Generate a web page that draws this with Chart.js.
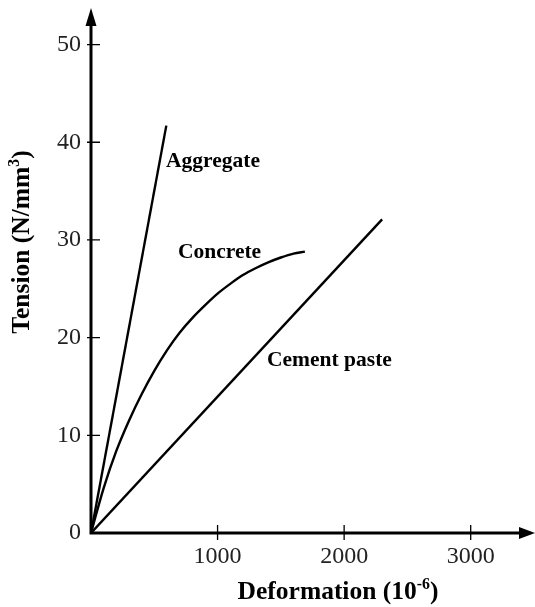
<!DOCTYPE html>
<html>
<head>
<meta charset="utf-8">
<script src="https://cdn.jsdelivr.net/npm/chart.js"></script>
<style>
  html, body { margin: 0; padding: 0; background: #fff; }
</style>
</head>
<body>
<canvas id="myChart" width="535" height="607"></canvas>
<script>
const xTicks = [1000, 2000, 3000];
const yTicks = [0, 10, 20, 30, 40, 50];

const seriesNames = ["Aggregate", "Concrete", "Cement paste"];

const aggregateX = [0, 595];
const aggregateY = [0, 41.7];

const concreteX = [0, 100, 200, 300, 400, 500, 600, 700, 800, 900, 1000, 1100, 1200, 1300, 1400, 1500, 1600, 1690];
const concreteY = [0, 4.6, 8.4, 11.5, 14.2, 16.6, 18.7, 20.5, 22.0, 23.3, 24.5, 25.5, 26.4, 27.1, 27.7, 28.2, 28.6, 28.8];

const pasteX = [0, 2300];
const pasteY = [0, 32.1];

const toPoints = (xs, ys) => xs.map((x, i) => ({ x: x, y: ys[i] }));

const serif = "'Liberation Serif', 'Times New Roman', serif";

// where the curve names sit, in data units (left edge, baseline)
const nameSpots = [[593, 37.5], [687, 28.1], [1391, 17.1]];

const drawSup = (ctx, parts, x, y, size) => {
  // parts: [text, isSup]
  let total = 0;
  parts.forEach(p => {
    ctx.font = "bold " + (p[1] ? size * 0.62 : size) + "px " + serif;
    total += ctx.measureText(p[0]).width;
  });
  let cx = x - total / 2;
  parts.forEach(p => {
    ctx.font = "bold " + (p[1] ? size * 0.62 : size) + "px " + serif;
    ctx.fillText(p[0], cx, p[1] ? y - size * 0.38 : y);
    cx += ctx.measureText(p[0]).width;
  });
};

const axisDecor = {
  id: "axisDecor",
  afterDraw: (chart) => {
    const ctx = chart.ctx;
    const xs = chart.scales.x;
    const ys = chart.scales.y;
    const a = chart.chartArea;
    ctx.save();
    ctx.strokeStyle = "#000";
    ctx.fillStyle = "#000";

    // axes
    ctx.lineWidth = 3;
    ctx.beginPath();
    ctx.moveTo(a.left, a.bottom);
    ctx.lineTo(a.left, a.top);
    ctx.moveTo(a.left - 1.5, a.bottom);
    ctx.lineTo(a.right + 5, a.bottom);
    ctx.stroke();

    // arrow heads
    ctx.beginPath();
    ctx.moveTo(a.left - 5.5, a.top + 1);
    ctx.lineTo(a.left, a.top - 17);
    ctx.lineTo(a.left + 5.5, a.top + 1);
    ctx.closePath();
    ctx.fill();
    ctx.beginPath();
    ctx.moveTo(a.right + 4, a.bottom - 6);
    ctx.lineTo(a.right + 20, a.bottom);
    ctx.lineTo(a.right + 4, a.bottom + 6);
    ctx.closePath();
    ctx.fill();

    // tick marks crossing the axes
    ctx.lineWidth = 1.3;
    ctx.beginPath();
    yTicks.forEach(v => {
      if (v === 0) return;
      const py = ys.getPixelForValue(v);
      ctx.moveTo(a.left - 4, py);
      ctx.lineTo(a.left + 9, py);
    });
    xTicks.forEach(v => {
      const px = xs.getPixelForValue(v);
      ctx.moveTo(px, a.bottom - 8);
      ctx.lineTo(px, a.bottom + 7);
    });
    ctx.stroke();

    // curve names
    ctx.font = "bold 21.5px " + serif;
    ctx.textAlign = "left";
    ctx.textBaseline = "alphabetic";
    seriesNames.forEach((name, i) => {
      ctx.fillText(name, xs.getPixelForValue(nameSpots[i][0]), ys.getPixelForValue(nameSpots[i][1]));
    });

    // axis titles
    drawSup(ctx, [["Deformation (10", false], ["-6", true], [")", false]], 338, 599, 25.5);
    ctx.translate(29, 242);
    ctx.rotate(-Math.PI / 2);
    drawSup(ctx, [["Tension (N/mm", false], ["3", true], [")", false]], 0, 0, 25.5);
    ctx.restore();
  }
};

const ctx = document.getElementById("myChart").getContext("2d");
const lineStyle = { borderColor: "#000", borderWidth: 2.4, pointRadius: 0, fill: false };

const myChart = new Chart(ctx, {
  type: "line",
  data: {
    datasets: [
      Object.assign({ label: seriesNames[0], data: toPoints(aggregateX, aggregateY) }, lineStyle),
      Object.assign({ label: seriesNames[1], data: toPoints(concreteX, concreteY), cubicInterpolationMode: "monotone" }, lineStyle),
      Object.assign({ label: seriesNames[2], data: toPoints(pasteX, pasteY) }, lineStyle)
    ]
  },
  options: {
    responsive: false,
    animation: false,
    layout: { padding: { top: 25, right: 20, left: 0, bottom: 0 } },
    plugins: { legend: { display: false }, tooltip: { enabled: false } },
    scales: {
      x: {
        type: "linear",
        min: 0,
        max: 3350,
        afterBuildTicks: (s) => { s.ticks = xTicks.map(v => ({ value: v })); },
        afterFit: (s) => { s.height = 74; },
        grid: { display: false, drawTicks: false },
        border: { display: false },
        ticks: {
          font: { family: serif, size: 24 }, color: "#222", padding: 9, maxRotation: 0,
          callback: (v) => String(v)
        }
      },
      y: {
        type: "linear",
        min: 0,
        max: 52,
        afterBuildTicks: (s) => { s.ticks = yTicks.map(v => ({ value: v })); },
        afterFit: (s) => { s.width = 91; },
        grid: { display: false, drawTicks: false },
        border: { display: false },
        ticks: { font: { family: serif, size: 24 }, color: "#222", padding: 10, callback: (v) => String(v) }
      }
    }
  },
  plugins: [axisDecor]
});
</script>
</body>
</html>
